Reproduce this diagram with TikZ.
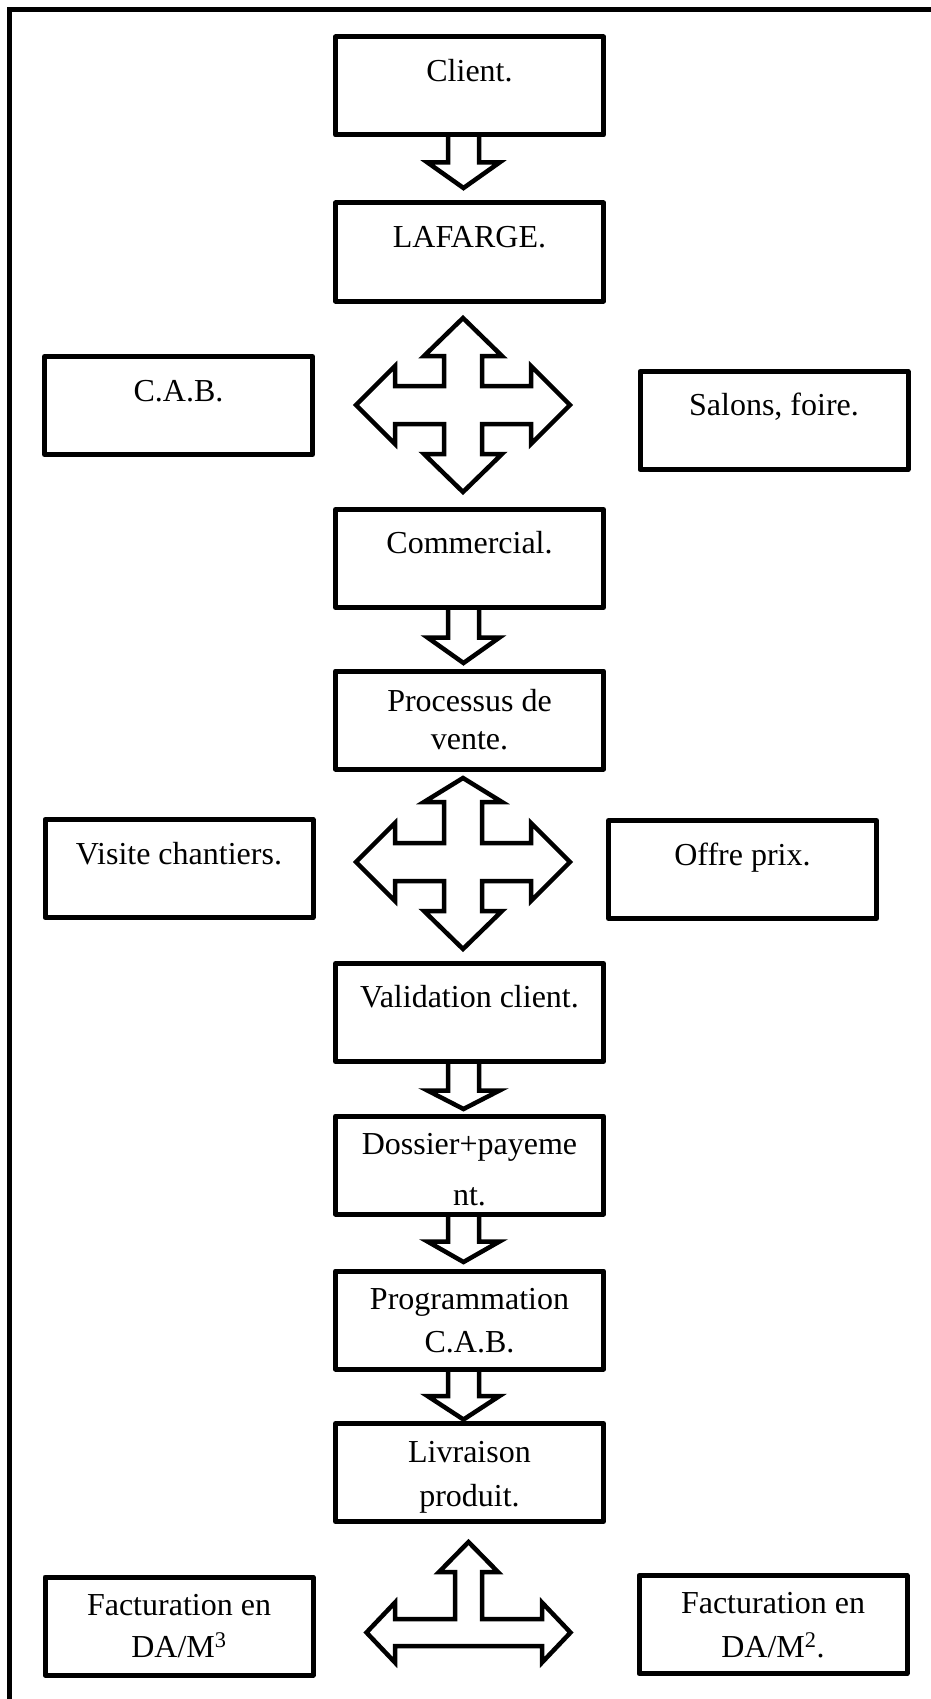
\documentclass[tikz,border=0pt]{standalone}
\usepackage{fontspec}
\setmainfont{Liberation Serif}
\usetikzlibrary{calc}
\pgfdeclarelayer{bg}
\pgfsetlayers{bg,main}
\tikzset{
  box/.style={draw, line width=5pt, fill=white, minimum width=268pt, minimum height=98pt, inner sep=0pt, line join=round},
  lbl/.style={anchor=base, inner sep=0pt, font=\fontsize{32}{38}\selectfont},
  blk/.style={draw, line width=4.5pt, fill=white, line join=miter, miter limit=10},
  frame/.style={draw, line width=5pt}
}
% down block arrow: #1 source node, #2 target node, #3 head length, #4 gap above target
\newcommand\blkdown[4]{%
  \draw[blk] ($(#1.south -| axis)+(-15.5,-6)$) -- ($(#2.north -| axis)+(-15.5,-#4-#3)$)
    -- ($(#2.north -| axis)+(-36,-#4-#3)$) -- ($(#2.north -| axis)+(0,-#4)$)
    -- ($(#2.north -| axis)+(36,-#4-#3)$) -- ($(#2.north -| axis)+(15.5,-#4-#3)$)
    -- ($(#1.south -| axis)+(15.5,-6)$);}
% four-way block arrow: #1 centre, #2 top tip, #3 top head base
\newcommand\crossarrow[3]{%
  \draw[blk, shift={(#1)}] (0,-#2) -- (39,-#3) -- (19,-#3) -- (19,-19) -- (68,-19) -- (68,-39)
    -- (107,0) -- (68,39) -- (68,19) -- (19,19) -- (19,49) -- (39,49) -- (0,87)
    -- (-39,49) -- (-19,49) -- (-19,19) -- (-68,19) -- (-68,39) -- (-107,0)
    -- (-68,-39) -- (-68,-19) -- (-19,-19) -- (-19,-#3) -- (-39,-#3) -- cycle;}
\begin{document}
\begin{tikzpicture}[x=1pt, y=-1pt]
\useasboundingbox (0,0) rectangle (931,1699);
\begin{scope}
\clip (0,0) rectangle (931,1699);
\draw[frame] (9.5,9.5) rectangle (950,1720);
\end{scope}
\coordinate (axis) at (463.5,0);
\coordinate (hub1) at (463,405);
\coordinate (hub2) at (463,862);
\coordinate (hub3) at (468.5,1632.5);

% central column
\node[box] (client) at (469.5,86) {};
\node[lbl] (client-t) at (469.5,82) {Client.};
\node[box] (lafarge) at (469.5,252) {};
\node[lbl] (lafarge-t) at (469.5,247) {LAFARGE.};
\node[box] (comm) at (469.5,558.5) {};
\node[lbl] (comm-t) at (469.5,553) {Commercial.};
\node[box] (proc) at (469.5,720) {};
\node[lbl] (proc-t) at (469.5,711) {\begin{tabular}[t]{@{}c@{}}Processus de\\vente.\end{tabular}};
\node[box] (valid) at (469.5,1012.5) {};
\node[lbl] (valid-t) at (469.5,1007) {Validation client.};
\node[box] (doss) at (469.5,1165) {};
\node[lbl] (doss-t) at (469.5,1154) {\begin{tabular}[t]{@{}c@{}}Dossier+payeme\\[13pt]nt.\end{tabular}};
\node[box] (prog) at (469.5,1320) {};
\node[lbl] (prog-t) at (469.5,1309) {\begin{tabular}[t]{@{}c@{}}Programmation\\[5pt]C.A.B.\end{tabular}};
\node[box] (livr) at (469.5,1472.5) {};
\node[lbl] (livr-t) at (469.5,1462) {\begin{tabular}[t]{@{}c@{}}Livraison\\[6pt]produit.\end{tabular}};

% side boxes
\node[box] (cab) at (178.5,405.5) {};
\node[lbl] (cab-t) at (178.5,401) {C.A.B.};
\node[box] (salons) at (774,420.5) {};
\node[lbl] (salons-t) at (774,415) {Salons, foire.};
\node[box] (visite) at (179,868.5) {};
\node[lbl] (visite-t) at (179,864) {Visite chantiers.};
\node[box] (offre) at (742.5,869.5) {};
\node[lbl] (offre-t) at (742.5,865) {Offre prix.};
\node[box] (factl) at (179,1626) {};
\node[lbl] (factl-t) at (179,1615) {\begin{tabular}[t]{@{}c@{}}Facturation en\\[4pt]DA/M\textsuperscript{3}\end{tabular}};
\node[box] (factr) at (773,1624.5) {};
\node[lbl] (factr-t) at (773,1613) {\begin{tabular}[t]{@{}c@{}}Facturation en\\[6pt]DA/M\textsuperscript{2}.\end{tabular}};

\begin{pgfonlayer}{bg}
\blkdown{client}{lafarge}{25.5}{12.5}
\blkdown{comm}{proc}{25.5}{5.5}
\blkdown{valid}{doss}{18.5}{4.5}
\blkdown{doss}{prog}{20.5}{6.5}
\blkdown{prog}{livr}{23.5}{1.5}
\crossarrow{hub1}{87}{49}
\crossarrow{hub2}{84}{60}
\draw[blk, shift={(hub3)}] (0,-90.5) -- (29.5,-60.5) -- (13.5,-60.5) -- (13.5,-13.5) -- (73.5,-13.5)
  -- (73.5,-30) -- (102,0) -- (73.5,30) -- (73.5,13.5) -- (-73.5,13.5) -- (-73.5,30)
  -- (-102,0) -- (-73.5,-30) -- (-73.5,-13.5) -- (-13.5,-13.5) -- (-13.5,-60.5)
  -- (-29.5,-60.5) -- cycle;
\end{pgfonlayer}
\end{tikzpicture}
\end{document}
